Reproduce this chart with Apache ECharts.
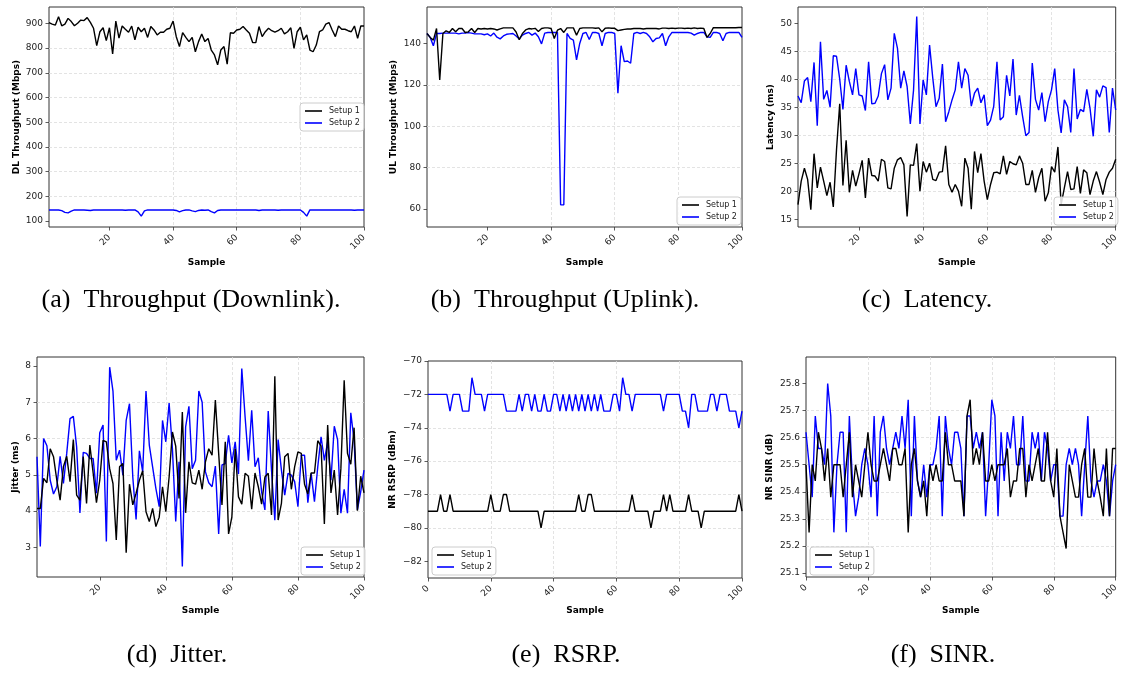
<!DOCTYPE html>
<html><head><meta charset="utf-8">
<script src="https://cdn.jsdelivr.net/npm/echarts@6/dist/echarts.min.js"></script>
<style>html,body{margin:0;padding:0;background:#fff}#c{width:1121px;height:673px}</style>
</head><body><div id="c"></div>
<script>
// ---------- DATA ----------
const seriesNames = ['Setup 1', 'Setup 2'];

const dlSetup1 = [903,897,893,927,890,897,920,907,890,900,
 913,911,923,904,880,810,866,882,830,882,
 776,909,840,889,876,864,889,833,884,866,
 880,843,887,873,853,864,864,876,880,909,
 846,806,862,843,826,843,785,826,857,826,
 839,792,772,732,792,806,735,862,860,873,
 876,887,873,860,822,822,887,846,866,880,
 870,864,870,880,857,866,882,799,866,884,
 833,853,792,785,812,866,873,897,903,873,
 846,889,876,876,870,866,889,839,889,889];
const dlSetup2 = [145,145,145,145,142,135,133,140,145,145,
 145,145,144,143,145,145,145,145,145,145,
 145,145,145,145,144,145,145,145,137,120,
 141,145,145,145,145,145,145,145,145,145,
 143,137,142,145,145,141,138,143,145,144,
 145,138,133,143,145,145,145,145,145,145,
 145,145,145,145,145,145,143,145,145,145,
 145,145,144,145,145,145,145,145,145,145,
 135,120,145,145,145,145,145,145,145,145,
 145,145,145,145,145,145,144,145,145,145];

const ulSetup1 = [144.8,142.9,141.6,147.2,122.3,144.8,146.1,145.3,147.2,145.6,
 147.2,147.2,145.3,145.6,147.2,145.3,147.2,147.0,147.2,147.0,
 147.2,147.0,146.5,147.0,147.5,147.5,147.5,147.5,145.5,141.8,
 144.8,146.5,147.2,147.0,147.3,145.8,147.2,147.5,147.5,147.2,
 142.4,146.4,147.2,145.3,147.5,147.5,147.5,144.0,147.2,147.5,
 147.5,147.5,147.5,147.3,147.5,145.6,147.3,147.5,147.3,147.3,
 146.2,146.5,146.8,147.0,147.0,147.2,147.2,147.2,147.0,147.2,
 147.2,147.2,147.2,147.0,147.4,147.4,147.2,147.4,147.2,147.4,
 147.4,147.2,147.4,147.2,147.5,147.2,147.4,147.2,142.9,144.8,
 147.6,147.6,147.6,147.6,147.6,147.6,147.6,147.6,147.7,147.7];
const ulSetup2 = [144.8,142.9,138.9,144.8,144.8,145.0,145.0,145.0,145.0,145.0,
 144.6,145.0,145.0,145.2,145.0,144.6,144.6,144.6,144.2,144.6,
 143.6,145.0,143.0,142.2,143.6,144.4,144.6,144.8,143.6,142.2,
 144.0,144.8,145.3,144.0,145.0,143.2,139.8,145.0,145.3,145.3,
 145.3,145.3,62,62,144.8,142.4,141.6,132.0,140.0,144.8,
 145.3,141.9,145.3,145.3,144.8,138.9,144.8,145.3,145.3,144.8,
 115.9,138.9,131.2,131.5,130.4,144.8,145.3,144.8,145.3,144.8,
 143.2,140.8,142.4,142.7,144.8,138.9,143.2,145.3,145.3,145.3,
 145.3,145.3,145.3,145.0,144.0,144.8,145.3,145.3,143.2,142.9,
 145.3,145.3,144.8,141.3,144.8,145.3,145.3,145.3,145.3,142.9];

const latSetup1 = [17.6,21.8,24.1,22.1,16.7,26.7,20.6,24.3,21.8,19.2,
 21.6,17.2,27.4,35.6,21.0,29.1,19.8,23.7,20.9,23.1,
 25.5,18.8,25.9,22.8,22.7,21.8,25.7,25.3,20.6,20.4,
 24.1,25.6,26.0,24.7,15.5,24.7,24.6,28.5,20.0,25.3,
 23.4,25.0,22.1,21.9,23.4,23.5,28.1,21.2,19.8,21.2,
 20.0,17.3,25.9,24.1,16.8,27.1,23.3,26.7,21.8,18.5,
 21.2,23.3,23.4,23.1,26.3,23.0,25.3,24.9,24.7,26.3,
 25.0,21.2,21.2,23.7,19.8,22.4,24.1,18.2,19.7,24.4,
 23.4,27.9,17.6,20.6,23.5,20.3,20.4,24.4,19.6,23.8,
 23.3,19.4,21.8,23.5,21.6,19.4,22.1,23.4,24.1,25.7];
const latSetup2 = [37.0,35.8,39.7,40.3,36.0,43.0,31.7,46.7,36.4,38.0,
 35.0,44.2,44.1,40.0,34.6,42.5,39.6,37.2,41.9,37.2,
 37.0,34.4,43.1,35.6,35.7,37.0,41.0,42.6,36.3,38.4,
 48.2,45.5,38.4,41.5,38.7,32.0,38.0,51.2,32.0,39.9,
 37.2,46.1,40.2,35.1,36.6,42.7,32.4,34.2,36.3,38.1,
 43.1,38.4,41.9,40.7,35.2,37.5,38.4,35.8,37.2,31.7,
 32.7,35.2,43.1,32.7,33.3,40.7,37.0,43.6,33.6,37.1,
 33.3,29.9,30.5,42.9,36.4,34.5,37.6,32.4,36.0,38.1,
 41.9,34.5,30.4,36.3,35.1,30.5,41.9,32.9,34.6,34.2,
 38.2,34.8,29.8,38.1,36.8,38.8,38.5,30.5,38.4,34.5];

const jitSetup1 = [4.07,4.07,4.90,4.78,5.72,5.50,4.85,4.30,5.22,5.51,
 4.81,5.97,4.44,4.30,5.50,4.21,5.82,5.05,4.23,4.85,
 5.95,5.91,5.17,4.76,3.20,5.22,5.31,2.85,4.74,4.17,
 4.49,4.85,5.11,3.98,3.71,4.07,3.57,3.83,4.67,3.98,
 4.94,6.18,5.79,4.35,6.73,3.95,5.36,4.78,4.74,5.13,
 4.60,5.36,5.72,5.54,7.06,5.59,4.17,5.91,3.37,3.84,
 5.72,4.39,4.19,5.04,4.96,4.05,5.05,4.67,4.19,4.94,
 5.04,3.89,7.72,3.75,4.21,5.50,5.59,4.60,5.22,5.63,
 5.59,4.74,4.47,5.05,5.05,5.94,5.79,3.64,6.37,4.50,
 5.13,3.89,5.17,7.61,5.59,5.29,6.30,4.01,4.96,4.50];
const jitSetup2 = [5.50,3.02,6.00,5.80,4.85,4.47,4.67,5.51,4.76,5.59,
 6.55,6.61,5.77,3.95,5.62,5.59,5.45,5.45,4.49,6.16,
 6.37,3.16,7.97,7.31,5.40,5.68,4.99,6.50,6.96,4.94,
 3.77,5.66,5.08,7.31,5.82,5.22,4.62,4.12,6.50,5.91,
 6.98,5.72,3.71,5.36,2.47,6.32,6.89,5.17,5.40,7.31,
 7.00,5.08,4.78,4.67,5.24,3.37,5.27,5.31,6.09,5.33,
 5.91,5.02,7.93,6.60,5.39,6.78,5.22,5.47,4.53,4.03,
 6.76,5.13,3.75,5.97,5.13,4.44,5.04,4.99,4.81,4.12,
 5.54,5.54,4.23,5.04,4.26,5.22,6.05,5.40,5.91,4.85,
 6.34,5.97,3.94,4.60,3.94,6.71,5.95,4.03,4.53,5.13];

const rsrpSetup1 = [-79,-79,-79,-79,-78,-79,-79,-78,-79,-79,
 -79,-79,-79,-79,-79,-79,-79,-79,-79,-79,
 -78,-79,-79,-79,-78,-78,-79,-79,-79,-79,
 -79,-79,-79,-79,-79,-79,-80,-79,-79,-79,
 -79,-79,-79,-79,-79,-79,-79,-79,-78,-79,
 -79,-78,-78,-79,-79,-79,-79,-79,-79,-79,
 -79,-79,-79,-79,-79,-78,-79,-79,-79,-79,
 -79,-80,-79,-79,-79,-78,-79,-78,-79,-79,
 -79,-79,-79,-78,-79,-79,-79,-80,-79,-79,
 -79,-79,-79,-79,-79,-79,-79,-79,-79,-78,-79];
const rsrpSetup2 = [-72,-72,-72,-72,-72,-72,-72,-73,-72,-72,
 -72,-73,-73,-73,-71,-72,-72,-72,-73,-72,
 -72,-72,-72,-72,-72,-73,-73,-73,-73,-72,
 -73,-72,-72,-73,-72,-73,-73,-72,-73,-73,
 -72,-72,-73,-72,-73,-72,-73,-72,-73,-72,
 -73,-72,-73,-72,-73,-72,-73,-73,-73,-72,
 -72,-73,-71,-72,-72,-73,-72,-72,-72,-72,
 -72,-72,-72,-72,-72,-73,-72,-72,-72,-72,
 -72,-73,-73,-74,-72,-72,-73,-73,-73,-73,
 -72,-72,-73,-72,-72,-72,-73,-73,-73,-74,-73];

const sinrSetup1 = [25.5,25.25,25.5,25.44,25.62,25.56,25.44,25.56,25.38,25.5,
 25.5,25.5,25.38,25.5,25.62,25.38,25.5,25.44,25.38,25.5,
 25.62,25.5,25.44,25.44,25.5,25.56,25.5,25.44,25.56,25.56,
 25.5,25.5,25.56,25.25,25.5,25.56,25.44,25.38,25.44,25.31,
 25.5,25.44,25.5,25.44,25.44,25.62,25.5,25.5,25.44,25.44,
 25.44,25.31,25.68,25.74,25.5,25.56,25.5,25.62,25.44,25.44,
 25.5,25.44,25.5,25.5,25.5,25.56,25.38,25.44,25.44,25.56,
 25.56,25.38,25.5,25.44,25.5,25.56,25.44,25.44,25.62,25.44,
 25.38,25.56,25.31,25.25,25.19,25.5,25.44,25.38,25.38,25.5,
 25.56,25.38,25.38,25.56,25.44,25.38,25.31,25.56,25.31,25.56,25.56];
const sinrSetup2 = [25.62,25.5,25.38,25.68,25.56,25.56,25.5,25.8,25.68,25.25,
 25.5,25.62,25.62,25.25,25.68,25.44,25.31,25.38,25.5,25.56,
 25.5,25.38,25.68,25.31,25.62,25.68,25.56,25.5,25.56,25.62,
 25.56,25.68,25.56,25.74,25.31,25.68,25.44,25.38,25.5,25.38,
 25.5,25.5,25.56,25.68,25.31,25.68,25.56,25.5,25.62,25.62,
 25.56,25.31,25.68,25.68,25.56,25.62,25.56,25.62,25.31,25.5,
 25.74,25.68,25.31,25.62,25.44,25.62,25.56,25.68,25.5,25.5,
 25.68,25.44,25.44,25.62,25.56,25.62,25.44,25.62,25.56,25.44,
 25.5,25.5,25.31,25.31,25.5,25.56,25.5,25.56,25.5,25.31,
 25.5,25.68,25.44,25.38,25.44,25.44,25.5,25.44,25.31,25.44,25.5];

// tick labels
const xTicks1 = [20,40,60,80,100];
const xTicks0 = [0,20,40,60,80,100];
const yTicksDL = [100,200,300,400,500,600,700,800,900];
const yTicksUL = [60,80,100,120,140];
const yTicksLat = [15,20,25,30,35,40,45,50];
const yTicksJit = [3,4,5,6,7,8];
const yTicksRsrp = [-82,-80,-78,-76,-74,-72,-70];
const yTicksSinr = [25.1,25.2,25.3,25.4,25.5,25.6,25.7,25.8];

const captions = ['(a)  Throughput (Downlink).', '(b)  Throughput (Uplink).', '(c)  Latency.',
                  '(d)  Jitter.', '(e)  RSRP.', '(f)  SINR.'];
const yNames = ['DL Throughput (Mbps)', 'UL Throughput (Mbps)', 'Latency (ms)',
                'Jitter (ms)', 'NR RSRP (dBm)', 'NR SINR (dB)'];

// ---------- LAYOUT ----------
const FONT = 'DejaVu Sans';
const panels = [
  {g:{left:49,top:7,width:315,height:220}, xr:[1,100], xt:xTicks1, yr:[76,966], yt:yTicksDL, yGap:28, xGap:31, s:[dlSetup1,dlSetup2], x0:1, lg:{left:300,top:103}, fmt:v=>String(v), cap:[191,300]},
  {g:{left:427,top:7,width:315,height:220}, xr:[1,100], xt:xTicks1, yr:[51.3,157.6], yt:yTicksUL, yGap:28.5, xGap:31, s:[ulSetup1,ulSetup2], x0:1, lg:{left:677,top:197}, fmt:v=>String(v), cap:[565,300]},
  {g:{left:798,top:7,width:320,height:220}, xr:[1,100], xt:xTicks1, yr:[13.6,52.9], yt:yTicksLat, yGap:22.5, xGap:31, s:[latSetup1,latSetup2], x0:1, lg:{left:1054,top:197}, fmt:v=>String(v), cap:[927,300]},
  {g:{left:37,top:357,width:327,height:220}, xr:[1,100], xt:xTicks1, yr:[2.18,8.25], yt:yTicksJit, yGap:17, xGap:29, s:[jitSetup1,jitSetup2], x0:1, lg:{left:301,top:547}, fmt:v=>String(v), cap:[177,655]},
  {g:{left:428,top:361,width:314,height:217}, xr:[0,100], xt:xTicks0, yr:[-83,-70], yt:yTicksRsrp, yGap:31, xGap:28, s:[rsrpSetup1,rsrpSetup2], x0:0, lg:{left:432,top:547}, fmt:v=>String(v).replace('-', '\u2212'), cap:[566,655]},
  {g:{left:806,top:357,width:312,height:220}, xr:[0,100], xt:xTicks0, yr:[25.085,25.898], yt:yTicksSinr, yGap:32, xGap:29, s:[sinrSetup1,sinrSetup2], x0:0, lg:{left:810,top:547}, fmt:v=>v.toFixed(1), cap:[943,655]}
];
const colors = ['#000000', '#0000ff'];

const option = {animation:false, backgroundColor:'#fff', grid:[], xAxis:[], yAxis:[], series:[], legend:[], graphic:[]};
panels.forEach((p, k) => {
  option.grid.push(Object.assign({show:true, borderColor:'#333', borderWidth:1, backgroundColor:'transparent', containLabel:false}, p.g));
  option.xAxis.push({gridIndex:k, type:'value', min:p.xr[0], max:p.xr[1],
    name:'Sample', nameLocation:'middle', nameGap:p.xGap,
    nameTextStyle:{fontFamily:FONT, fontWeight:'bold', fontSize:9, color:'#000'},
    axisLine:{show:false},
    axisTick:{show:true, length:3.5, customValues:p.xt, lineStyle:{color:'#333', width:0.8}},
    axisLabel:{customValues:p.xt, rotate:45, margin:9, fontFamily:FONT, fontSize:9, color:'#222'},
    splitLine:{show:true, showMinLine:false, showMaxLine:false, lineStyle:{type:[3,2], color:'#dcdcdc', width:0.8}}});
  option.yAxis.push({gridIndex:k, type:'value', min:p.yr[0], max:p.yr[1],
    name:yNames[k], nameLocation:'middle', nameGap:p.yGap,
    nameTextStyle:{fontFamily:FONT, fontWeight:'bold', fontSize:9, color:'#000'},
    axisLine:{show:false},
    axisTick:{show:true, length:3.5, customValues:p.yt, lineStyle:{color:'#333', width:0.8}},
    axisLabel:{customValues:p.yt, margin:6, fontFamily:FONT, fontSize:9, color:'#222', formatter:p.fmt},
    splitLine:{show:true, showMinLine:false, showMaxLine:false, lineStyle:{type:[3,2], color:'#dcdcdc', width:0.8}}});
  p.s.forEach((arr, j) => {
    option.series.push({type:'line', name:seriesNames[j], xAxisIndex:k, yAxisIndex:k,
      data:arr.map((v, i) => [i + p.x0, v]), showSymbol:false, symbol:'none',
      lineStyle:{color:colors[j], width:1.4}, itemStyle:{color:colors[j]}, z:j===0?3:2});
  });
  option.legend.push({data:seriesNames, orient:'vertical', left:p.lg.left, top:p.lg.top,
    icon:'rect', itemWidth:17, itemHeight:1.6, itemGap:4, padding:[4,4,4,5],
    backgroundColor:'rgba(255,255,255,0.85)', borderColor:'#cccccc', borderWidth:1, borderRadius:3,
    textStyle:{fontFamily:FONT, fontSize:8, color:'#222', padding:[0,0,0,2]}, selectedMode:false});
  option.graphic.push({type:'text', x:p.cap[0], y:p.cap[1],
    style:{text:captions[k], font:'26px "Liberation Serif"', fill:'#000', align:'center', verticalAlign:'middle'}});
});

const chart = echarts.init(document.getElementById('c'), null, {renderer:'canvas'});
chart.setOption(option);
</script>
</body></html>
